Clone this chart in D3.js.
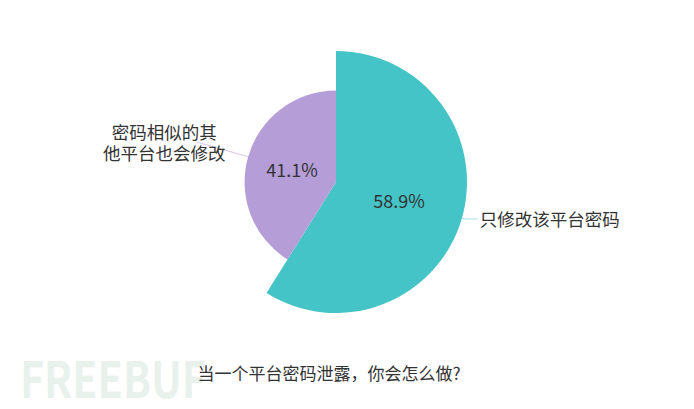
<!DOCTYPE html>
<html>
<head>
<meta charset="utf-8">
<script src="https://cdn.jsdelivr.net/npm/d3@7"></script>
<style>
  html, body { margin: 0; padding: 0; background: #fff; }
  text { font-family: "Noto Sans CJK SC", "Noto Sans", sans-serif; }
</style>
</head>
<body>
<div id="chart"></div>
<script>
// chart data
const categories = ["只修改该平台密码", "密码相似的其他平台也会修改"];
const labelLines = [["只修改该平台密码"], ["密码相似的其", "他平台也会修改"]];
const values = [58.9, 41.1];
const titleText = "当一个平台密码泄露，你会怎么做?";

const width = 694, height = 409;
const center = {x: 336, y: 182};
const maxRadius = 131;
const colors = ["#44c4c6", "#b59dd8"];
const lineColors = ["#a6e3e4", "#d9cdee"];

const svg = d3.select("#chart").append("svg")
    .attr("width", width)
    .attr("height", height);

// faint watermark in the lower left
svg.append("text")
    .attr("x", 20)
    .attr("y", 398)
    .attr("font-size", "50px")
    .attr("font-weight", "700")
    .attr("fill", "#e8f1ec")
    .attr("font-family", "DejaVu Sans")
    .attr("textLength", 186)
    .attr("lengthAdjust", "spacingAndGlyphs")
    .text("FREEBUF");

const g = svg.append("g")
    .attr("transform", "translate(" + center.x + "," + center.y + ")");

// rose style: radius grows with the value
const rScale = d3.scaleLinear()
    .domain([0, d3.max(values)])
    .range([0, maxRadius]);

const pie = d3.pie()
    .sort(null)
    .value(d => d)
    .startAngle(0)
    .endAngle(2 * Math.PI);

const arcs = pie(values);
const arcFor = d => d3.arc().innerRadius(0).outerRadius(rScale(d.data));

g.selectAll(".slice")
    .data(arcs)
    .join("path")
    .attr("class", "slice")
    .attr("d", d => arcFor(d)(d))
    .attr("fill", (d, i) => colors[i]);

// percentage labels inside the slices
g.selectAll(".pct")
    .data(arcs)
    .join("text")
    .attr("class", "pct")
    .attr("transform", d => "translate(" + arcFor(d).centroid(d) + ")")
    .attr("text-anchor", "middle")
    .attr("dominant-baseline", "central")
    .attr("font-size", "18px")
    .attr("fill", "#333")
    .text(d => d.data.toFixed(1) + "%");

// guide lines: radial part then horizontal part
const guide = [{len1: 3, len2: 13}, {len1: 54, len2: 0}];
const pointAt = (angle, r) => [Math.sin(angle) * r, -Math.cos(angle) * r];

arcs.forEach((d, i) => {
    const mid = (d.startAngle + d.endAngle) / 2;
    const r = rScale(d.data);
    const p0 = pointAt(mid, r);
    const p1 = pointAt(mid, r + guide[i].len1);
    const dir = Math.sin(mid) >= 0 ? 1 : -1;
    const p2 = [p1[0] + dir * guide[i].len2, p1[1]];
    g.append("path")
        .attr("d", d3.line()([p0, p1, p2]))
        .attr("fill", "none")
        .attr("stroke", lineColors[i])
        .attr("stroke-width", 1.2);

    const lines = labelLines[i];
    const lh = 21;
    let tx, anchor;
    if (dir > 0) { tx = p2[0] + 2; anchor = "start"; }
    else { tx = p2[0] - 32; anchor = "middle"; }
    const label = g.append("text")
        .attr("text-anchor", anchor)
        .attr("font-size", "17.5px")
        .attr("fill", "#333");
    lines.forEach((t, k) => {
        label.append("tspan")
            .attr("x", tx)
            .attr("y", p2[1] + (k - (lines.length - 1) / 2) * lh)
            .attr("dominant-baseline", "central")
            .text(t);
    });
});

// chart title below the pie
svg.append("text")
    .attr("x", 329)
    .attr("y", 372)
    .attr("text-anchor", "middle")
    .attr("dominant-baseline", "central")
    .attr("font-size", "17px")
    .attr("fill", "#333")
    .text(titleText);
</script>
</body>
</html>
